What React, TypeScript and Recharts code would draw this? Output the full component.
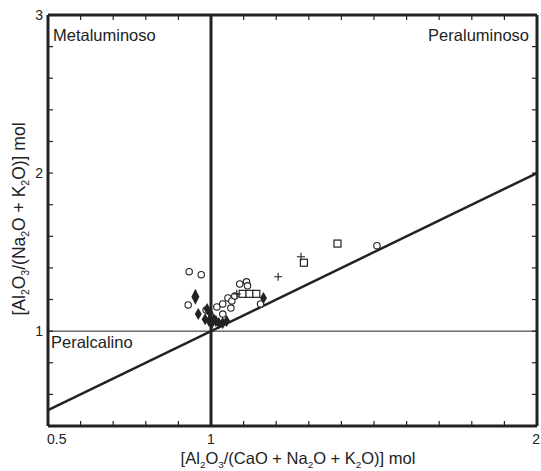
import { ScatterChart, Scatter, XAxis, YAxis, ReferenceLine } from 'recharts';

// Shand diagram: A/CNK vs A/NK (molar)
const circles = [
  { x: 0.933, y: 1.376 },
  { x: 0.970, y: 1.357 },
  { x: 0.930, y: 1.166 },
  { x: 0.985, y: 1.134 },
  { x: 1.018, y: 1.153 },
  { x: 1.036, y: 1.172 },
  { x: 1.052, y: 1.210 },
  { x: 1.064, y: 1.191 },
  { x: 1.061, y: 1.146 },
  { x: 1.036, y: 1.108 },
  { x: 1.073, y: 1.223 },
  { x: 1.088, y: 1.299 },
  { x: 1.109, y: 1.312 },
  { x: 1.112, y: 1.287 },
  { x: 1.152, y: 1.172 },
  { x: 1.509, y: 1.541 },
];

const squares = [
  { x: 1.097, y: 1.236 },
  { x: 1.118, y: 1.236 },
  { x: 1.139, y: 1.236 },
  { x: 1.285, y: 1.433 },
  { x: 1.388, y: 1.554 },
];

const crosses = [
  { x: 1.276, y: 1.471 },
  { x: 1.206, y: 1.344 },
  { x: 1.079, y: 1.236 },
];

const diamonds = [
  { x: 0.961, y: 1.108 },
  { x: 0.982, y: 1.076 },
  { x: 0.994, y: 1.064 },
  { x: 1.003, y: 1.051 },
  { x: 1.015, y: 1.064 },
  { x: 1.024, y: 1.051 },
  { x: 1.036, y: 1.051 },
  { x: 1.048, y: 1.064 },
  { x: 0.988, y: 1.140 },
  { x: 0.997, y: 1.115 },
  { x: 1.009, y: 1.076 },
  { x: 1.161, y: 1.210 },
];

const bigDiamonds = [{ x: 0.952, y: 1.217 }];

const xTicks = [0.5, 0.6, 0.7, 0.8, 0.9, 1, 1.1, 1.2, 1.3, 1.4, 1.5, 1.6, 1.7, 1.8, 1.9, 2];
const yTicks = [0.4, 0.6, 0.8, 1, 1.2, 1.4, 1.6, 1.8, 2, 2.2, 2.4, 2.6, 2.8, 3];
const xLabels = [0.5, 1, 2];
const yLabels = [1, 2, 3];

const INK = '#222';
const FONT = '"Liberation Sans", Arial, sans-serif';

const BottomTick = ({ x, y, payload }: any) => {
  const v = payload.value;
  // first label starts at the axis, last one sits flush with the right edge
  const anchor = v === 0.5 ? 'start' : v === 2 ? 'end' : 'middle';
  const tx = v === 0.5 ? x - 1 : v === 2 ? x + 3 : x;
  return (
    <g>
      <line x1={x} x2={x} y1={y} y2={y - 5} stroke={INK} strokeWidth={1.2} />
      {xLabels.includes(v) && (
        <text x={tx} y={y + 18} textAnchor={anchor} fontSize={14} fill={INK} fontFamily={FONT}>
          {v}
        </text>
      )}
    </g>
  );
};

const TopTick = ({ x, y }: any) => (
  <line x1={x} x2={x} y1={y} y2={y + 5} stroke={INK} strokeWidth={1.2} />
);

const LeftTick = ({ x, y, payload }: any) => (
  <g>
    <line x1={x} x2={x + 5} y1={y} y2={y} stroke={INK} strokeWidth={1.2} />
    {yLabels.includes(payload.value) && (
      <text x={x - 5} y={y + 5} textAnchor="end" fontSize={14} fill={INK} fontFamily={FONT}>
        {payload.value}
      </text>
    )}
  </g>
);

const RightTick = ({ x, y }: any) => (
  <line x1={x} x2={x - 5} y1={y} y2={y} stroke={INK} strokeWidth={1.2} />
);

const circleShape = ({ cx, cy }: any) => (
  <circle cx={cx} cy={cy} r={3.2} fill="#fff" stroke={INK} strokeWidth={1.1} />
);
const squareShape = ({ cx, cy }: any) => (
  <rect x={cx - 3.5} y={cy - 3.5} width={7} height={7} fill="#fff" stroke={INK} strokeWidth={1.2} />
);
const crossShape = ({ cx, cy }: any) => (
  <path d={`M${cx - 4},${cy}H${cx + 4}M${cx},${cy - 4}V${cy + 4}`} stroke={INK} strokeWidth={1.1} />
);
const diamondShape = ({ cx, cy }: any) => (
  <path d={`M${cx},${cy - 6}L${cx + 3.5},${cy}L${cx},${cy + 6}L${cx - 3.5},${cy}Z`} fill={INK} />
);
const bigDiamondShape = ({ cx, cy }: any) => (
  <path d={`M${cx},${cy - 8}L${cx + 4},${cy}L${cx},${cy + 8}L${cx - 4},${cy}Z`} fill={INK} />
);

const sub = (t: string, size: number) => (
  <tspan fontSize={size * 0.6} dy={size * 0.22}>
    {t}
  </tspan>
);
const up = (t: string, size: number) => <tspan dy={-size * 0.22}>{t}</tspan>;

export default function App() {
  const axisLine = { stroke: INK, strokeWidth: 3 };
  const xs = 16.5;
  const ys = 17.5;
  return (
    <div style={{ position: 'absolute', left: 0, top: 0, background: '#fff' }}>
      <ScatterChart width={541} height={471} margin={{ top: 0, right: 0, bottom: 0, left: 0 }}>
        <XAxis
          xAxisId="b"
          type="number"
          dataKey="x"
          domain={[0.5, 2]}
          ticks={xTicks}
          interval={0}
          allowDataOverflow
          height={45}
          tickSize={0}
          tickMargin={0}
          axisLine={axisLine}
          tickLine={false}
          tick={BottomTick}
        />
        <XAxis
          xAxisId="t"
          orientation="top"
          type="number"
          dataKey="x"
          domain={[0.5, 2]}
          ticks={xTicks}
          interval={0}
          allowDataOverflow
          height={15}
          tickSize={0}
          tickMargin={0}
          axisLine={axisLine}
          tickLine={false}
          tick={TopTick}
        />
        <YAxis
          yAxisId="l"
          type="number"
          dataKey="y"
          domain={[0.4, 3]}
          ticks={yTicks}
          interval={0}
          allowDataOverflow
          width={48}
          tickSize={0}
          tickMargin={0}
          axisLine={axisLine}
          tickLine={false}
          tick={LeftTick}
        />
        <YAxis
          yAxisId="r"
          orientation="right"
          type="number"
          dataKey="y"
          domain={[0.4, 3]}
          ticks={yTicks}
          interval={0}
          allowDataOverflow
          width={4}
          tickSize={0}
          tickMargin={0}
          axisLine={axisLine}
          tickLine={false}
          tick={RightTick}
        />
        <ReferenceLine xAxisId="b" yAxisId="l" y={1} stroke={INK} strokeWidth={1} />
        <ReferenceLine xAxisId="b" yAxisId="l" x={1} stroke={INK} strokeWidth={3} />
        <ReferenceLine
          xAxisId="b"
          yAxisId="l"
          segment={[
            { x: 0.5, y: 0.5 },
            { x: 2, y: 2 },
          ]}
          stroke={INK}
          strokeWidth={2.5}
        />
        <Scatter xAxisId="b" yAxisId="l" data={circles} shape={circleShape} isAnimationActive={false} />
        <Scatter xAxisId="b" yAxisId="l" data={squares} shape={squareShape} isAnimationActive={false} />
        <Scatter xAxisId="b" yAxisId="l" data={crosses} shape={crossShape} isAnimationActive={false} />
        <Scatter xAxisId="b" yAxisId="l" data={diamonds} shape={diamondShape} isAnimationActive={false} />
        <Scatter xAxisId="b" yAxisId="l" data={bigDiamonds} shape={bigDiamondShape} isAnimationActive={false} />
        <text x={53} y={41} fontSize={16.5} fill={INK} fontFamily={FONT}>
          Metaluminoso
        </text>
        <text x={529} y={41} fontSize={16.5} fill={INK} fontFamily={FONT} textAnchor="end">
          Peraluminoso
        </text>
        <text x={51} y={348} fontSize={16.5} fill={INK} fontFamily={FONT}>
          Peralcalino
        </text>
        <text x={298} y={464} fontSize={xs} fill={INK} fontFamily={FONT} textAnchor="middle">
          [Al{sub('2', xs)}
          {up('O', xs)}
          {sub('3', xs)}
          {up('/(CaO + Na', xs)}
          {sub('2', xs)}
          {up('O + K', xs)}
          {sub('2', xs)}
          {up('O)] mol', xs)}
        </text>
        <text
          x={25}
          y={219}
          fontSize={ys}
          fill={INK}
          fontFamily={FONT}
          textAnchor="middle"
          transform="rotate(-90 25 219)"
        >
          [Al{sub('2', ys)}
          {up('O', ys)}
          {sub('3', ys)}
          {up('/(Na', ys)}
          {sub('2', ys)}
          {up('O + K', ys)}
          {sub('2', ys)}
          {up('O)] mol', ys)}
        </text>
      </ScatterChart>
    </div>
  );
}
